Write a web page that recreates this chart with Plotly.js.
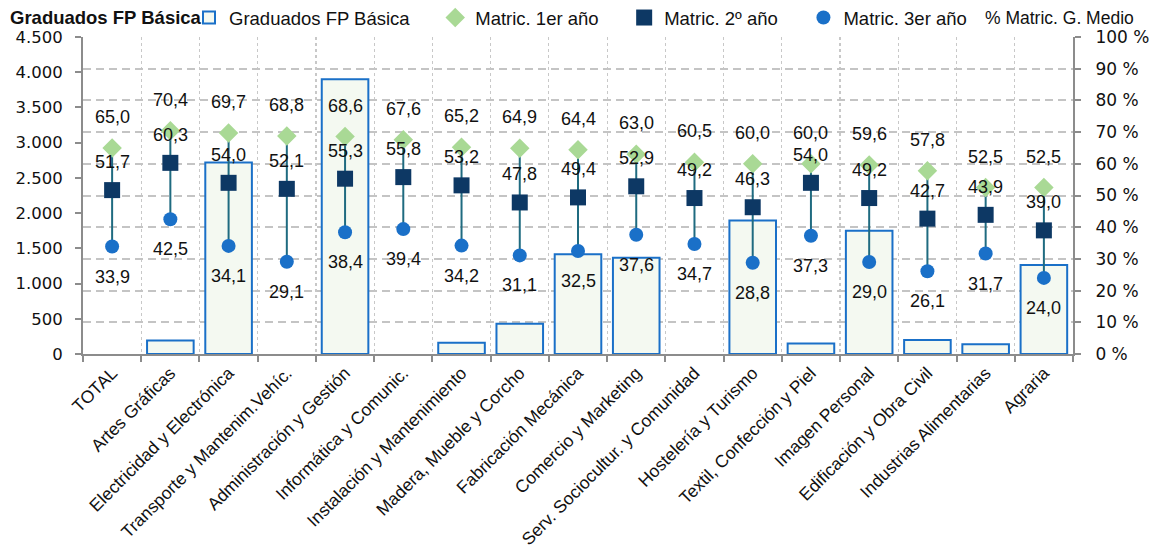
<!DOCTYPE html>
<html>
<head>
<meta charset="utf-8">
<script src="https://cdn.plot.ly/plotly-3.0.1.min.js"></script>
<style>html,body{margin:0;padding:0;background:#fff;}#chart{width:1151px;height:558px;}</style>
</head>
<body>
<div id="chart"></div>
<script>
const categories = ["TOTAL","Artes Gráficas","Electricidad y Electrónica","Transporte y Mantenim.Vehíc.","Administración y Gestión","Informática y Comunic.","Instalación y Mantenimiento","Madera, Mueble y Corcho","Fabricación Mecánica","Comercio y Marketing","Serv. Sociocultur. y Comunidad","Hostelería y Turismo","Textil, Confección y Piel","Imagen Personal","Edificación y Obra Civil","Industrias Alimentarias","Agraria"];
const graduados = [null,190,2720,null,3900,null,160,430,1415,1365,null,1895,150,1750,200,140,1265];
const matric1 = [65.0,70.4,69.7,68.8,68.6,67.6,65.2,64.9,64.4,63.0,60.5,60.0,60.0,59.6,57.8,52.5,52.5];
const matric2 = [51.7,60.3,54.0,52.1,55.3,55.8,53.2,47.8,49.4,52.9,49.2,46.3,54.0,49.2,42.7,43.9,39.0];
const matric3 = [33.9,42.5,34.1,29.1,38.4,39.4,34.2,31.1,32.5,37.6,34.7,28.8,37.3,29.0,26.1,31.7,24.0];
const leftTicks = [0,500,1000,1500,2000,2500,3000,3500,4000,4500];
const seriesNames = ["Graduados FP Básica","Matric. 1er año","Matric. 2º año","Matric. 3er año"];

const FONT = "Liberation Sans, Arial, sans-serif";
const AXFONT = "DejaVu Sans, sans-serif";
const fmt = v => v.toFixed(1).replace('.', ',');
const pad = s => s + '\u00a0\u00a0\u00a0\u00a0';

// high-low line from 1er año down to 3er año (drawn as one-sided error bar)
const hlMinus = matric1.map((v, i) => v - matric3[i]);

const traces = [
  {type:'bar', name:pad(seriesNames[0]), x:categories, y:graduados, width:0.8,
   marker:{color:'#f4f9f1', line:{color:'#1a70c8', width:2}}, yaxis:'y', hoverinfo:'skip'},
  {type:'scatter', mode:'markers', name:pad(seriesNames[1]), x:categories, y:matric1, yaxis:'y2',
   marker:{symbol:'diamond', size:15, color:'#a9d995'},
   error_y:{type:'data', symmetric:false, array:matric1.map(() => 0), arrayminus:hlMinus,
            color:'#1f6b80', thickness:2, width:0}},
  {type:'scatter', mode:'markers', name:pad(seriesNames[2]), x:categories, y:matric2, yaxis:'y2',
   marker:{symbol:'square', size:16, color:'#0d3864'}},
  {type:'scatter', mode:'markers', name:seriesNames[3], x:categories, y:matric3, yaxis:'y2',
   marker:{symbol:'circle', size:14, color:'#1a70c8'}}
];

const annotations = [];
const addLabels = (vals, shift) => vals.forEach((v, i) => annotations.push({
  x: categories[i], y: v, xref:'x', yref:'y2', text: fmt(v), showarrow:false,
  yshift: shift, font:{family:FONT, size:18, color:'#111'}
}));
addLabels(matric1, 31);
addLabels(matric2, 28);
addLabels(matric3, -30);
annotations.push({xref:'paper', yref:'paper', x:(1136-83)/990, y:(354-18)/317, xanchor:'right', yanchor:'middle',
  text:'% Matric. G. Medio', showarrow:false, font:{family:FONT, size:17.5, color:'#111'}});

const layout = {
  width:1151, height:558,
  margin:{l:83, r:78, t:37, b:204, autoexpand:false},
  paper_bgcolor:'#fff', plot_bgcolor:'#fff',
  separators:',.',
  title:{text:'<b>Graduados FP Básica</b>', x:10/1151, xanchor:'left', xref:'container',
         y:1-18/558, yanchor:'middle', yref:'container', font:{family:FONT, size:18.5, color:'#111'}},
  showlegend:true,
  legend:{orientation:'h', x:(189-83)/990, xanchor:'left', y:(354-18)/317, yanchor:'middle',
          font:{family:FONT, size:18.5, color:'#111'}, bgcolor:'rgba(0,0,0,0)', traceorder:'normal'},
  xaxis:{type:'category', range:[-0.5,16.5], tickangle:-45, tickson:'boundaries', ticks:'outside', ticklen:6,
         tickcolor:'#8c8c8c', tickwidth:2, showline:true, linecolor:'#8c8c8c', linewidth:2,
         showgrid:true, gridcolor:'#c8c8c8', griddash:'dot', gridwidth:1.2,
         tickfont:{family:FONT, size:17.5, color:'#111'}, automargin:false, fixedrange:true},
  yaxis:{range:[0,4500], tickvals:leftTicks, tickformat:',d', ticks:'outside', ticklen:6,
         tickcolor:'#8c8c8c', tickwidth:2, showline:true, linecolor:'#8c8c8c', linewidth:2,
         showgrid:false, zeroline:false, ticklabelstandoff:9,
         tickfont:{family:AXFONT, size:16.5, color:'#111'}, automargin:false},
  yaxis2:{overlaying:'y', side:'right', range:[0,100], dtick:10, ticksuffix:' %', ticks:'outside',
          ticklen:6, tickcolor:'#8c8c8c', tickwidth:2, showline:true, linecolor:'#8c8c8c', linewidth:2,
          showgrid:true, gridcolor:'#c4c4c4', griddash:'8px,5px', gridwidth:2, zeroline:false,
          ticklabelstandoff:11, tickfont:{family:AXFONT, size:17, color:'#111'}, automargin:false},
  annotations:annotations
};

Plotly.newPlot('chart', traces, layout, {staticPlot:true, displayModeBar:false});
</script>
</body>
</html>
